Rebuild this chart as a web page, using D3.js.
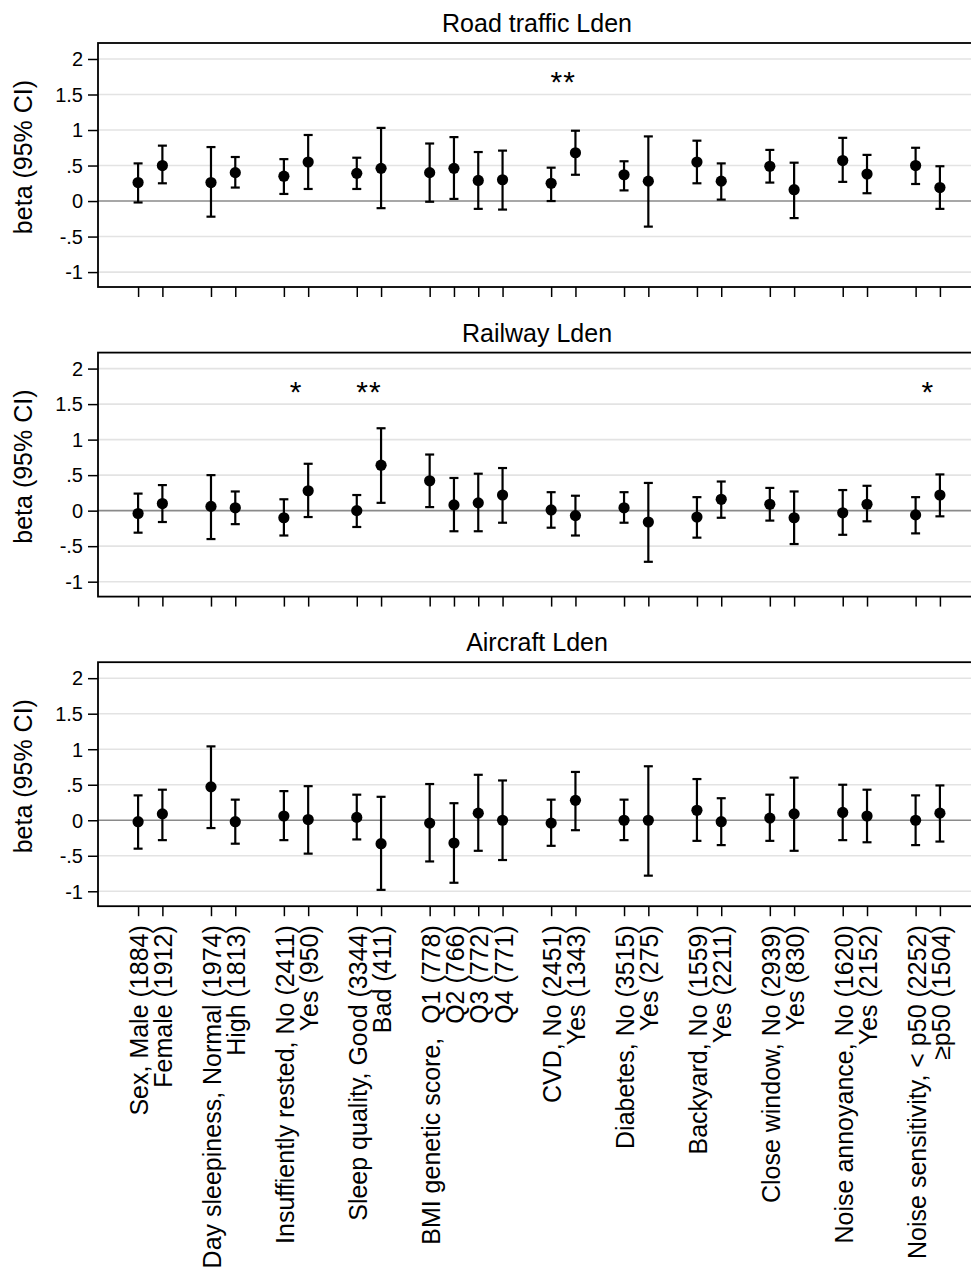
<!DOCTYPE html>
<html>
<head>
<meta charset="utf-8">
<script src="https://cdn.jsdelivr.net/npm/d3@7"></script>
<style>
  body { margin: 0; background: #fff; }
  svg { display: block; overflow: hidden; }
  text { font-family: "Liberation Sans", Arial, sans-serif; fill: #000; }
</style>
</head>
<body>
<div id="chart"></div>
<script>
// tick labels along the bottom, one per estimate
const labels = [
  "Sex, Male (1884)", "Female (1912)",
  "Day sleepiness, Normal (1974)", "High (1813)",
  "Insuffiently rested, No (2411)", "Yes (950)",
  "Sleep quality, Good (3344)", "Bad (411)",
  "BMI genetic score,  Q1 (778)", "Q2 (766)", "Q3 (772)", "Q4 (771)",
  "CVD, No (2451)", "Yes (1343)",
  "Diabetes, No (3515)", "Yes (275)",
  "Backyard, No (1559)", "Yes (2211)",
  "Close window, No (2939)", "Yes (830)",
  "Noise annoyance, No (1620)", "Yes (2152)",
  "Noise sensitivity, < p50 (2252)", "\u2265p50 (1504)"
];
// which subgroup each label belongs to
const groups = [0,0,1,1,2,2,3,3,4,4,4,4,5,5,6,6,7,7,8,8,9,9,10,10];

const yTicks = [-1, -0.5, 0, 0.5, 1, 1.5, 2];
const yTickLabels = ["-1", "-.5", "0", ".5", "1", "1.5", "2"];

// Road traffic
const roadBeta = [0.26,0.50, 0.26,0.40, 0.35,0.55, 0.39,0.46, 0.40,0.46,0.29,0.30, 0.25,0.68, 0.37,0.28, 0.55,0.28, 0.49,0.16, 0.57,0.38, 0.50,0.19];
const roadLo   = [-0.02,0.25, -0.22,0.19, 0.10,0.17, 0.17,-0.10, -0.01,0.03,-0.11,-0.12, 0.00,0.37, 0.15,-0.36, 0.25,0.02, 0.26,-0.24, 0.27,0.11, 0.24,-0.11];
const roadHi   = [0.53,0.78, 0.76,0.62, 0.59,0.93, 0.61,1.03, 0.81,0.90,0.69,0.71, 0.47,0.99, 0.56,0.91, 0.85,0.53, 0.72,0.54, 0.89,0.65, 0.75,0.49];
const roadStars = ["","","","","","**","","","","",""];

// Railway
const railBeta = [-0.04,0.10, 0.06,0.04, -0.10,0.28, 0.00,0.64, 0.42,0.08,0.11,0.22, 0.01,-0.07, 0.04,-0.16, -0.09,0.16, 0.09,-0.10, -0.03,0.09, -0.06,0.22];
const railLo   = [-0.31,-0.16, -0.40,-0.19, -0.35,-0.09, -0.23,0.11, 0.05,-0.29,-0.29,-0.17, -0.24,-0.35, -0.17,-0.72, -0.38,-0.10, -0.14,-0.47, -0.34,-0.15, -0.32,-0.08];
const railHi   = [0.24,0.36, 0.50,0.27, 0.16,0.66, 0.22,1.16, 0.79,0.46,0.52,0.60, 0.26,0.21, 0.26,0.39, 0.19,0.41, 0.32,0.27, 0.29,0.35, 0.19,0.51];
const railStars = ["","","*","**","","","","","","","*"];

// Aircraft
const airBeta = [-0.02,0.09, 0.47,-0.02, 0.06,0.01, 0.04,-0.33, -0.04,-0.32,0.10,0.00, -0.04,0.28, 0.00,0.00, 0.14,-0.02, 0.03,0.09, 0.11,0.06, 0.00,0.10];
const airLo   = [-0.40,-0.28, -0.11,-0.33, -0.28,-0.47, -0.27,-0.98, -0.58,-0.88,-0.43,-0.56, -0.36,-0.14, -0.28,-0.78, -0.29,-0.35, -0.29,-0.43, -0.28,-0.31, -0.35,-0.30];
const airHi   = [0.35,0.43, 1.04,0.29, 0.41,0.48, 0.36,0.33, 0.51,0.24,0.64,0.56, 0.29,0.68, 0.29,0.76, 0.58,0.31, 0.36,0.60, 0.50,0.43, 0.35,0.49];
const airStars = ["","","","","","","","","","",""];

const panels = [
  {title: "Road traffic Lden", beta: roadBeta, lo: roadLo, hi: roadHi, stars: roadStars},
  {title: "Railway Lden", beta: railBeta, lo: railLo, hi: railHi, stars: railStars},
  {title: "Aircraft Lden", beta: airBeta, lo: airLo, hi: airHi, stars: airStars}
];

const width = 971, height = 1267;
const left = 98, right = 980;
const panelTop = 43, panelH = 244, panelStep = 309.6;

// each new subgroup leaves one empty slot
const slot = labels.map((d, i) => i + groups[i] + 1);
const x = d3.scaleLinear().domain([-0.65, 35.65]).range([left, right]);

const svg = d3.select("#chart").append("svg")
  .attr("width", width)
  .attr("height", height);

function drawPanel(g, p, showLabels) {
  const y = d3.scaleLinear().domain([-1.21, 2.225]).range([panelH, 0]);

  // grid
  g.selectAll(".grid").data(yTicks).join("line")
    .attr("x1", left).attr("x2", right)
    .attr("y1", d => y(d)).attr("y2", d => y(d))
    .attr("stroke", d => d === 0 ? "#8a8a8a" : "#e3e3e3")
    .attr("stroke-width", 1.6);

  // y axis
  const yAxis = d3.axisLeft(y).tickValues(yTicks)
    .tickFormat((d, i) => yTickLabels[i]).tickSize(10).tickPadding(5);
  const ya = g.append("g").attr("transform", `translate(${left},0)`).call(yAxis);
  ya.select(".domain").remove();
  ya.selectAll("line").attr("stroke", "#000").attr("stroke-width", 1.5);
  ya.selectAll("text").style("font-size", "20px").attr("dy", "0.34em");

  // x axis ticks
  const xAxis = d3.axisBottom(x).tickValues(slot).tickFormat("").tickSize(10);
  const xa = g.append("g").attr("transform", `translate(0,${panelH})`).call(xAxis);
  xa.select(".domain").remove();
  xa.selectAll("line").attr("stroke", "#000").attr("stroke-width", 1.5);

  // frame
  g.append("rect")
    .attr("x", left).attr("y", 0)
    .attr("width", right - left).attr("height", panelH)
    .attr("fill", "none").attr("stroke", "#000").attr("stroke-width", 1.8);

  // error bars
  const bars = g.selectAll(".ci").data(p.beta).join("g");
  bars.append("line")
    .attr("x1", (d, i) => x(slot[i])).attr("x2", (d, i) => x(slot[i]))
    .attr("y1", (d, i) => y(p.lo[i])).attr("y2", (d, i) => y(p.hi[i]));
  bars.append("line")
    .attr("x1", (d, i) => x(slot[i]) - 4.5).attr("x2", (d, i) => x(slot[i]) + 4.5)
    .attr("y1", (d, i) => y(p.lo[i])).attr("y2", (d, i) => y(p.lo[i]));
  bars.append("line")
    .attr("x1", (d, i) => x(slot[i]) - 4.5).attr("x2", (d, i) => x(slot[i]) + 4.5)
    .attr("y1", (d, i) => y(p.hi[i])).attr("y2", (d, i) => y(p.hi[i]));
  bars.selectAll("line").attr("stroke", "#000").attr("stroke-width", 2.2);

  g.selectAll(".pt").data(p.beta).join("circle")
    .attr("cx", (d, i) => x(slot[i]))
    .attr("cy", d => y(d))
    .attr("r", 5.6)
    .attr("fill", "#000");

  // significance stars, centred over the subgroup
  const nGroups = p.stars.length;
  for (let k = 0; k < nGroups; k++) {
    if (!p.stars[k]) continue;
    const s = slot.filter((d, i) => groups[i] === k);
    g.append("text")
      .attr("x", x(d3.mean(s)))
      .attr("y", y(1.77) + 17)
      .attr("text-anchor", "middle")
      .style("font-size", "30px")
      .style("letter-spacing", "1px")
      .text(p.stars[k]);
  }

  // title
  g.append("text")
    .attr("x", (left + right) / 2 - 2)
    .attr("y", -11)
    .attr("text-anchor", "middle")
    .style("font-size", "25px")
    .text(p.title);

  // y title
  g.append("text")
    .attr("transform", `translate(23,${114}) rotate(-90)`)
    .attr("text-anchor", "middle")
    .attr("dy", "0.35em")
    .style("font-size", "25px")
    .text("beta (95% CI)");

  if (showLabels) {
    g.selectAll(".xl").data(labels).join("text")
      .attr("transform", (d, i) => `translate(${x(slot[i]) + 1},${panelH + 19}) rotate(-90)`)
      .attr("text-anchor", "end")
      .attr("dy", "0.36em")
      .style("font-size", "25px")
      .style("white-space", "pre")
      .text(d => d);
  }
}

panels.forEach((p, k) => {
  const g = svg.append("g").attr("transform", `translate(0,${panelTop + k * panelStep})`);
  drawPanel(g, p, k === panels.length - 1);
});
</script>
</body>
</html>
